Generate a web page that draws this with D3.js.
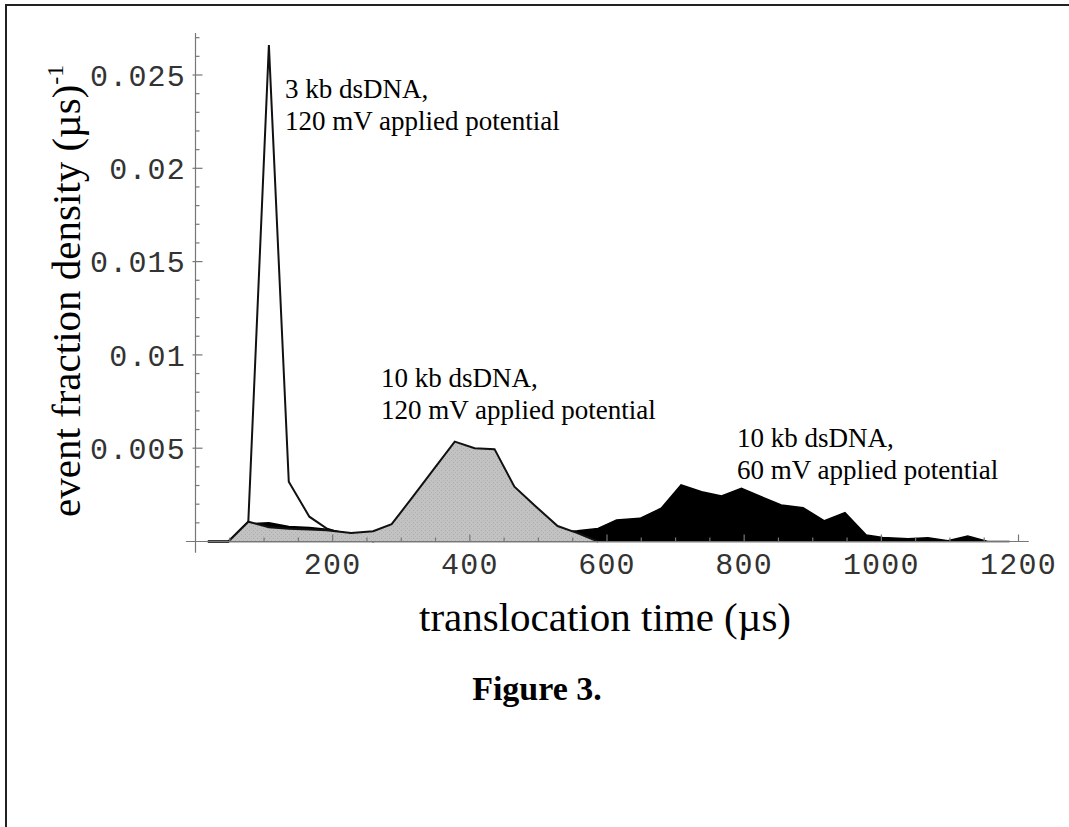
<!DOCTYPE html>
<html lang="en">
<head>
    <meta charset="UTF-8">
    <title>Figure 3</title>
    <script src="https://d3js.org/d3.v7.min.js"></script>
    <style>
        body {
            margin: 0;
            background: white;
        }
        .tick-label {
            font-family: "Liberation Mono", "Courier New", monospace;
            font-size: 30px;
            fill: #333;
        }
        .serif {
            font-family: "Liberation Serif", "Times New Roman", serif;
        }
    </style>
</head>
<body>
<script>
    // 3 kb dsDNA, 120 mV (white outline)
    const whiteTimes = [18, 48, 77, 107, 136, 166, 191, 225, 260];
    const whiteDensity = [0, 0, 0.00106, 0.0266, 0.0032, 0.00133, 0.0007, 0.0003, 0];

    // 10 kb dsDNA, 120 mV (grey)
    const greyTimes = [18, 48, 77, 107, 136, 166, 191, 227, 259, 286, 317, 348, 378, 407, 436, 465, 497, 528, 557, 587];
    const greyDensity = [0, 0, 0.00106, 0.00076, 0.00068, 0.00064, 0.0006, 0.00046, 0.00055, 0.00093, 0.0024, 0.0039, 0.00535, 0.0050, 0.00495, 0.00294, 0.00185, 0.00083, 0.00045, 0];

    // 10 kb dsDNA, 60 mV (black)
    const blackTimes = [18, 48, 77, 107, 136, 166, 191, 227, 259, 286, 317, 348, 378, 407, 436, 465, 497, 528, 557, 587, 614, 648, 679, 708, 738, 767, 796, 825, 854, 886, 917, 947, 978, 1002, 1039, 1068, 1097, 1126, 1155, 1187];
    const blackDensity = [0, 0, 0.00095, 0.001, 0.0008, 0.00075, 0.00066, 0.0004, 0.0003, 0.0003, 0.0003, 0.0004, 0.0004, 0.0004, 0.0004, 0.0004, 0.0005, 0.0005, 0.00058, 0.0007, 0.00115, 0.00124, 0.00178, 0.00303, 0.00267, 0.00244, 0.00285, 0.0024, 0.00196, 0.00181, 0.00111, 0.00155, 0.00035, 0.00022, 0.00015, 0.0002, 0.00004, 0.0003, 0, 0];

    const xTicks = [200, 400, 600, 800, 1000, 1200];
    const yTicks = [0.005, 0.01, 0.015, 0.02, 0.025];
    const yTickLabels = ["0.005", "0.01", "0.015", "0.02", "0.025"];

    var svg = d3.select("body").append("svg")
        .attr("width", 1069)
        .attr("height", 827)
        .style("display", "block");

    svg.append("rect")
        .attr("width", 1069)
        .attr("height", 827)
        .attr("fill", "white");

    // page frame (top and left edges only)
    svg.append("line")
        .attr("x1", 5).attr("x2", 1069)
        .attr("y1", 5).attr("y2", 5)
        .attr("stroke", "#222").attr("stroke-width", 2);
    svg.append("line")
        .attr("x1", 6).attr("x2", 6)
        .attr("y1", 5).attr("y2", 827)
        .attr("stroke", "#222").attr("stroke-width", 2);

    const xScale = d3.scaleLinear().domain([0, 1200]).range([195.5, 1018.5]);
    const yScale = d3.scaleLinear().domain([0, 0.025]).range([541.5, 75]);

    function series(times, dens) {
        return times.map((t, i) => ({t: t, v: dens[i]}));
    }

    const area = d3.area()
        .x(d => xScale(d.t))
        .y0(yScale(0))
        .y1(d => yScale(d.v));
    const line = d3.line()
        .x(d => xScale(d.t))
        .y(d => yScale(d.v));

    // speckled grey like the scanned original
    let defs = svg.append("defs");
    let pat = defs.append("pattern")
        .attr("id", "speckle")
        .attr("width", 4).attr("height", 4)
        .attr("patternUnits", "userSpaceOnUse");
    pat.append("rect").attr("width", 4).attr("height", 4).attr("fill", "#c2c2c2");
    pat.append("rect").attr("x", 1).attr("y", 2).attr("width", 1).attr("height", 1).attr("fill", "#a9a9a9");
    pat.append("rect").attr("x", 3).attr("y", 0).attr("width", 1).attr("height", 1).attr("fill", "#b0b0b0");

    let plot = svg.append("g").attr("id", "plot");

    // white peak drawn first, the others sit on top of it
    plot.append("path")
        .datum(series(whiteTimes, whiteDensity))
        .attr("d", area)
        .attr("fill", "white");
    plot.append("path")
        .datum(series(whiteTimes, whiteDensity))
        .attr("d", line)
        .attr("fill", "none")
        .attr("stroke", "#111")
        .attr("stroke-width", 2);

    plot.append("path")
        .datum(series(blackTimes, blackDensity))
        .attr("d", area)
        .attr("fill", "#000")
        .attr("stroke", "#000")
        .attr("stroke-width", 1.5);

    plot.append("path")
        .datum(series(greyTimes, greyDensity))
        .attr("d", area)
        .attr("fill", "url(#speckle)");
    plot.append("path")
        .datum(series(greyTimes, greyDensity))
        .attr("d", line)
        .attr("fill", "none")
        .attr("stroke", "#111")
        .attr("stroke-width", 2);

    // axes, Mathematica style: crossing lines with inward ticks
    let axes = svg.append("g").attr("id", "axes")
        .attr("stroke", "#777")
        .attr("stroke-width", 1.2);

    axes.append("line")
        .attr("x1", xScale(-14)).attr("x2", xScale(1215))
        .attr("y1", yScale(0)).attr("y2", yScale(0));
    axes.append("line")
        .attr("x1", xScale(0)).attr("x2", xScale(0))
        .attr("y1", yScale(-0.0006)).attr("y2", yScale(0.02725));

    d3.range(50, 1201, 50).forEach(t => {
        const major = t % 200 === 0;
        axes.append("line")
            .attr("x1", xScale(t)).attr("x2", xScale(t))
            .attr("y1", yScale(0)).attr("y2", yScale(0) - (major ? 7 : 4));
    });
    d3.range(1, 28).forEach(k => {
        const v = k * 0.001;
        const major = k % 5 === 0;
        axes.append("line")
            .attr("x1", xScale(0) - (major ? 3 : 0))
            .attr("x2", xScale(0) + (major ? 7 : 4))
            .attr("y1", yScale(v)).attr("y2", yScale(v));
    });

    svg.selectAll("text.xlab").data(xTicks).join("text")
        .attr("class", "tick-label xlab")
        .attr("x", d => xScale(d))
        .attr("y", 574)
        .attr("text-anchor", "middle")
        .attr("letter-spacing", 1.2)
        .text(d => d);

    svg.selectAll("text.ylab").data(yTicks).join("text")
        .attr("class", "tick-label ylab")
        .attr("x", 186)
        .attr("y", d => yScale(d))
        .attr("dy", "0.36em")
        .attr("text-anchor", "end")
        .attr("letter-spacing", 1.2)
        .text((d, i) => yTickLabels[i]);

    // axis titles
    svg.append("text")
        .attr("class", "serif")
        .attr("x", 605)
        .attr("y", 631)
        .attr("text-anchor", "middle")
        .attr("font-size", 41)
        .text("translocation time (\u00b5s)");

    let ytitle = svg.append("text")
        .attr("class", "serif")
        .attr("transform", "translate(80,517) rotate(-90)")
        .attr("font-size", 41);
    ytitle.append("tspan").text("event fraction density (\u00b5s)");
    ytitle.append("tspan").attr("font-size", 24).attr("dy", -17).text("-1");

    // annotations
    const notes = [
        {x: 285, y: 98, lines: ["3 kb dsDNA,", "120 mV applied potential"]},
        {x: 381, y: 387, lines: ["10 kb dsDNA,", "120 mV applied potential"]},
        {x: 737, y: 447, lines: ["10 kb dsDNA,", "60 mV applied potential"]}
    ];
    notes.forEach(n => {
        n.lines.forEach((s, i) => {
            svg.append("text")
                .attr("class", "serif")
                .attr("x", n.x)
                .attr("y", n.y + i * 32)
                .attr("font-size", 27)
                .text(s);
        });
    });

    svg.append("text")
        .attr("class", "serif")
        .attr("x", 537)
        .attr("y", 700)
        .attr("text-anchor", "middle")
        .attr("font-size", 34)
        .attr("font-weight", "bold")
        .text("Figure 3.");
</script>
</body>
</html>
